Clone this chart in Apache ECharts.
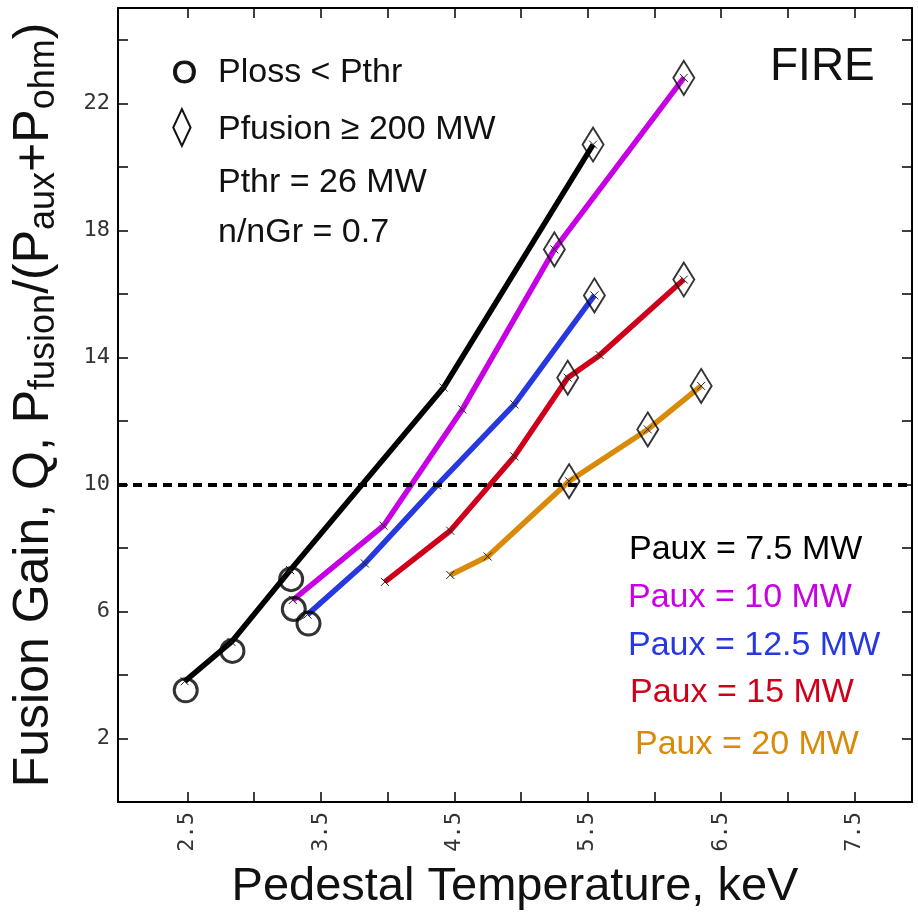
<!DOCTYPE html>
<html><head><meta charset="utf-8">
<script src="https://cdn.jsdelivr.net/npm/echarts@6/dist/echarts.min.js"></script>
<style>html,body{margin:0;padding:0;background:#fff}#c{width:918px;height:919px}</style>
</head><body><div id="c"></div>
<script>
// ---- data ----
const seriesNames = ['Paux = 7.5 MW', 'Paux = 10 MW', 'Paux = 12.5 MW', 'Paux = 15 MW', 'Paux = 20 MW'];
const seriesColors = ['#000000', '#c800e4', '#2838e0', '#d0001a', '#d88a08'];
const p75  = [[2.48, 3.8], [2.83, 5.04], [3.27, 7.3], [4.42, 13.05], [5.54, 20.7]];
const p10  = [[3.29, 6.36], [3.97, 8.7], [4.56, 12.36], [5.25, 17.4], [6.22, 22.8]];
const p125 = [[3.40, 5.9], [3.83, 7.51], [4.37, 9.97], [4.95, 12.52], [5.55, 15.95]];
const p15  = [[3.98, 6.93], [4.47, 8.54], [4.95, 10.88], [5.35, 13.36], [5.59, 14.07], [6.22, 16.45]];
const p20  = [[4.47, 7.15], [4.75, 7.73], [5.36, 10.1], [5.95, 11.73], [6.35, 13.1]];
const seriesData = [p75, p10, p125, p15, p20];
// indices of points flagged Ploss < Pthr (circle) and Pfusion >= 200 MW (diamond)
const circleIdx  = [[0, 1, 2], [0], [0], [], []];
const diamondIdx = [[4], [3, 4], [4], [3, 5], [2, 3, 4]];
const qTarget = 10;
const xTickValues  = [2.5, 3, 3.5, 4, 4.5, 5, 5.5, 6, 6.5, 7, 7.5];
const xLabelValues = [2.5, 3.5, 4.5, 5.5, 6.5, 7.5];
const yTickValues  = [2, 4, 6, 8, 10, 12, 14, 16, 18, 20, 22, 24];
const yLabelValues = [2, 6, 10, 14, 18, 22];
const noteLines = ['Ploss < Pthr', 'Pfusion \u2265 200 MW', 'Pthr = 26 MW', 'n/nGr = 0.7'];
const chartTag = 'FIRE';

// ---- chart ----
const chart = echarts.init(document.getElementById('c'));
const SANS = '"Liberation Sans", Arial, sans-serif';
const MONO = '"DejaVu Sans Mono", monospace';

const lineSeries = seriesData.map((d, i) => ({
  type: 'line', name: seriesNames[i], data: d,
  xAxisIndex: 0, yAxisIndex: 0,
  symbol: 'path://M0,0L10,10M10,0L0,10', symbolSize: 8, showSymbol: true,
  itemStyle: { color: 'rgba(0,0,0,0)', borderColor: '#222', borderWidth: 1 },
  lineStyle: { color: seriesColors[i], width: 5.5 },
  z: 3, silent: true, animation: false
}));
lineSeries[0].markLine = {
  silent: true, symbol: ['none', 'none'], label: { show: false },
  lineStyle: { color: '#000', width: 4, type: [9, 6] },
  data: [{ yAxis: qTarget }]
};

const circles = [], diamonds = [];
seriesData.forEach((d, i) => {
  circleIdx[i].forEach(k => circles.push(d[k]));
  diamondIdx[i].forEach(k => diamonds.push(d[k]));
});

const texts = [];
const noteY = [73, 130, 183, 233];
noteLines.forEach((t, i) => texts.push({ type: 'text', style: { text: t, x: 218, y: noteY[i], font: '34px ' + SANS, fill: '#111', verticalAlign: 'middle', align: 'left' } }));
texts.push({ type: 'text', style: { text: 'O', x: 172, y: 74, font: '32px ' + SANS, fill: '#111', stroke: '#111', lineWidth: 1, verticalAlign: 'middle' } });
texts.push({ type: 'text', style: { text: '\u25CA', x: 172, y: 129, font: '40px "DejaVu Sans", sans-serif', fill: '#111', verticalAlign: 'middle' } });
texts.push({ type: 'text', style: { text: chartTag, x: 770, y: 67, font: '46px ' + SANS, fill: '#111', verticalAlign: 'middle' } });
const legY = [550, 598, 646, 693, 745];
const legX = [629, 628, 628, 630, 635];
seriesNames.forEach((t, i) => texts.push({ type: 'text', style: { text: t, x: legX[i], y: legY[i], font: '34px ' + SANS, fill: seriesColors[i], verticalAlign: 'middle' } }));

const axisCommon = {
  type: 'value',
  axisLine: { show: true, onZero: false, lineStyle: { color: '#000', width: 2 } },
  splitLine: { show: false }
};

chart.setOption({
  animation: false,
  backgroundColor: '#fff',
  grid: { left: 118, right: 6, top: 8, bottom: 117, containLabel: false, outerBoundsMode: 'none' },
  xAxis: [
    Object.assign({}, axisCommon, {
      min: 1.98, max: 7.93, position: 'bottom',
      axisTick: { show: true, inside: true, length: 10, customValues: xTickValues, lineStyle: { color: '#000', width: 1.5 } },
      axisLabel: { show: true, customValues: xLabelValues, rotate: 90, margin: 10, fontFamily: MONO, fontSize: 22, color: '#333', formatter: v => String(v) },
      name: 'Pedestal Temperature, keV', nameLocation: 'middle', nameGap: 62,
      nameTextStyle: { fontFamily: SANS, fontSize: 47, color: '#111' }
    }),
    Object.assign({}, axisCommon, {
      min: 1.98, max: 7.93, position: 'top',
      axisTick: { show: true, inside: true, length: 10, customValues: xTickValues, lineStyle: { color: '#000', width: 1.5 } },
      axisLabel: { show: false }
    })
  ],
  yAxis: [
    Object.assign({}, axisCommon, {
      min: 0, max: 25, position: 'left',
      axisTick: { show: true, inside: true, length: 10, customValues: yTickValues, lineStyle: { color: '#000', width: 1.5 } },
      axisLabel: { show: true, customValues: yLabelValues, margin: 8, fontFamily: MONO, fontSize: 22, color: '#333' },
      name: '{m|Fusion Gain, Q, P}{s|fusion}{m|/(P}{s|aux}{m|+P}{s|ohm}{m|)}',
      nameLocation: 'middle', nameGap: 56, nameRotate: 90,
      nameTextStyle: {
        rich: {
          m: { fontFamily: SANS, fontSize: 50, color: '#111', lineHeight: 56 },
          s: { fontFamily: SANS, fontSize: 36, color: '#111', lineHeight: 24, verticalAlign: 'bottom' }
        }
      }
    }),
    Object.assign({}, axisCommon, {
      min: 0, max: 25, position: 'right',
      axisTick: { show: true, inside: true, length: 10, customValues: yTickValues, lineStyle: { color: '#000', width: 1.5 } },
      axisLabel: { show: false }
    })
  ],
  series: lineSeries.concat([
    { type: 'scatter', data: circles, xAxisIndex: 0, yAxisIndex: 0, symbol: 'circle', symbolSize: 23, symbolOffset: [1, 9],
      itemStyle: { color: 'rgba(0,0,0,0)', borderColor: '#000', borderWidth: 3 }, z: 5, silent: true },
    { type: 'scatter', data: diamonds, xAxisIndex: 0, yAxisIndex: 0, symbol: 'diamond', symbolSize: [21, 34],
      itemStyle: { color: 'rgba(0,0,0,0)', borderColor: '#000', borderWidth: 2 }, z: 5, silent: true }
  ]),
  graphic: texts
});
</script></body></html>
